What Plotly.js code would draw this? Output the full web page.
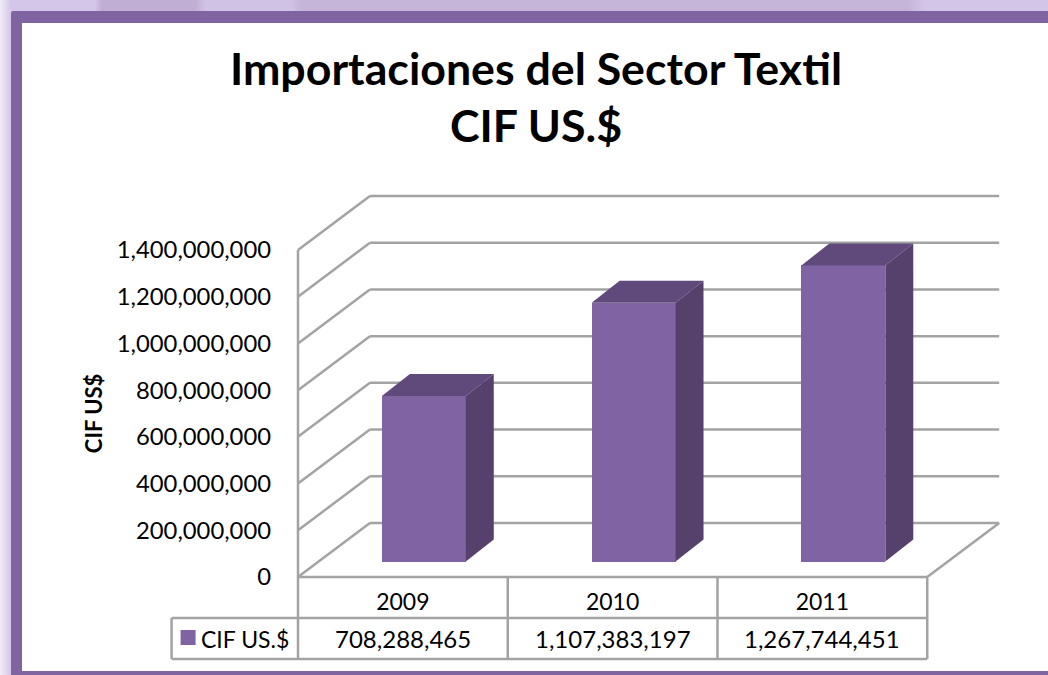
<!DOCTYPE html>
<html>
<head>
<meta charset="utf-8">
<script src="https://cdn.plot.ly/plotly-3.0.1.min.js"></script>
<style>
html,body{margin:0;padding:0;width:1048px;height:675px;overflow:hidden;}
body{position:relative;background:linear-gradient(90deg,#f2edf7 0,#d4c6e8 11px,#d4c6e8 95px,#c0aed4 102px,#c0aed4 195px,#d0c2e5 205px,#d0c2e5 292px,#c5b5d9 300px,#c5b5d9 908px,#d3c5e8 925px,#d3c5e8 100%);}
#frame{position:absolute;left:11px;top:11px;right:0;bottom:0;background:#fff;border-left:11px solid #8064a2;border-top:12px solid #8064a2;border-bottom:4px solid #8064a2;border-top-left-radius:3px;box-sizing:border-box;}
#chart{position:absolute;left:0;top:0;width:1048px;height:675px;}
</style>
</head>
<body>
<div id="frame"></div>
<div id="chart"></div>
<script>
const categories = ['2009', '2010', '2011'];
const seriesName = 'CIF US.$';
const seriesValues = [708288465, 1107383197, 1267744451];
const tickValues = [0, 200000000, 400000000, 600000000, 800000000, 1000000000, 1200000000, 1400000000];

const W = 1048, H = 675;
const pxPerCat = 209.9, pxPerUnit = 46.71 / 200000000;
const plotL = 289.5, plotR = 1003, plotT = 185, plotB = 577;
const axisX = 297.5;
const xr = [(plotL - axisX) / pxPerCat, (plotR - axisX) / pxPerCat];
const yr = [0, (plotB - plotT) / pxPerUnit];
const wallDx = 72 / pxPerCat, wallDy = 54 / pxPerUnit;
const floorDx = 0.1, floorDy = 15.5 / pxPerUnit;
const barW = 0.4, barDx = 28 / pxPerCat, barDy = 22 / pxPerUnit;
const GRID = '#a3a3a3', FRONT = '#7f63a2', TOP = '#5f4a7b', SIDE = '#56416c';
const nCat = categories.length;

const paperX = c => (c - xr[0]) / (xr[1] - xr[0]);
const paperPx = px => (px - plotL) / (plotR - plotL);
const paperY = py => (plotB - py) / (plotB - plotT);
const fmt = v => v.toLocaleString('en-US');

const centers = categories.map((_, i) => i + 0.5 + floorDx);
const traces = [{
  type: 'bar', name: seriesName, x: centers, y: seriesValues, base: floorDy, width: barW,
  marker: {color: FRONT, line: {width: 0}}, showlegend: false, hoverinfo: 'skip'
}];
seriesValues.forEach((v, i) => {
  const l = centers[i] - barW / 2, r = centers[i] + barW / 2, b = floorDy, t = floorDy + v;
  traces.push({type: 'scatter', mode: 'lines', line: {width: 0}, fill: 'toself', fillcolor: TOP,
    x: [l, l + barDx, r + barDx, r, l], y: [t, t + barDy, t + barDy, t, t],
    showlegend: false, hoverinfo: 'skip'});
  traces.push({type: 'scatter', mode: 'lines', line: {width: 0}, fill: 'toself', fillcolor: SIDE,
    x: [r, r + barDx, r + barDx, r, r], y: [t, t + barDy, b + barDy, b, t],
    showlegend: false, hoverinfo: 'skip'});
});

const gridLine = {color: GRID, width: 2.5};
const shapes = [];
const seg = (x0, y0, x1, y1) => shapes.push({type: 'line', xref: 'x', yref: 'y', x0, y0, x1, y1, layer: 'below', line: gridLine});
tickValues.forEach(v => {
  seg(0, v, wallDx, v + wallDy);
  seg(wallDx, v + wallDy, nCat + wallDx, v + wallDy);
});
seg(nCat, 0, nCat + wallDx, wallDy);

const pLine = (x0, y0, x1, y1) => shapes.push({type: 'line', xref: 'paper', yref: 'paper',
  x0: paperX(x0), x1: paperX(x1), y0: y0, y1: y1, layer: 'below', line: gridLine});
const topY = tickValues[tickValues.length - 1] * pxPerUnit;
pLine(0, paperY(plotB), 0, paperY(plotB - topY));
pLine(0, paperY(plotB), nCat, paperY(plotB));
const row1 = paperY(618), row2 = paperY(659), tableLeft = (171 - axisX) / pxPerCat;
for (let i = 0; i <= nCat; i++) pLine(i, paperY(plotB), i, row2);
pLine(tableLeft, row1, nCat, row1);
pLine(tableLeft, row2, nCat, row2);
pLine(tableLeft, row1, tableLeft, row2);
// legend key of the data table
shapes.push({type: 'rect', xref: 'paper', yref: 'paper', x0: paperPx(180), x1: paperPx(195),
  y0: paperY(645), y1: paperY(630), fillcolor: FRONT, line: {width: 0}, layer: 'above'});

const annotations = seriesValues.map((v, i) => ({
  xref: 'x', yref: 'paper', x: i + 0.5, y: paperY(638.5), text: fmt(v), showarrow: false,
  xanchor: 'center', yanchor: 'middle', font: {size: 24}
}));
annotations.push({xref: 'paper', yref: 'paper', x: paperPx(201), y: paperY(638.5), text: seriesName,
  showarrow: false, xanchor: 'left', xshift: -3, yanchor: 'middle', font: {size: 23}});
annotations.push({xref: 'paper', yref: 'paper', x: paperPx(92.5), y: paperY(413),
  text: '<b>CIF US$</b>', textangle: -90, showarrow: false, xanchor: 'center', yanchor: 'middle', font: {size: 22}});

const layout = {
  width: W, height: H,
  margin: {l: plotL, r: W - plotR, t: plotT, b: H - plotB, pad: 0, autoexpand: false},
  paper_bgcolor: 'rgba(0,0,0,0)', plot_bgcolor: 'rgba(0,0,0,0)',
  font: {family: 'Lato, "Open Sans", sans-serif', color: '#000', size: 22},
  title: {
    text: '<span style="font-size:44.7px"><b>Importaciones del Sector Textil<br>CIF US.$</b></span>',
    font: {size: 44, color: '#000'}, x: 536 / W, xanchor: 'center', xref: 'container', y: 1 - 85 / H, yanchor: 'top', yref: 'container'
  },
  xaxis: {range: xr, tickvals: categories.map((_, i) => i + 0.5), ticktext: categories,
    ticks: '', showgrid: false, zeroline: false, showline: false, tickfont: {size: 23}, ticklabelstandoff: 9, fixedrange: true},
  yaxis: {range: yr, tickvals: tickValues, ticktext: tickValues.map(fmt),
    ticks: '', showgrid: false, zeroline: false, showline: false, tickfont: {size: 23.8}, ticklabelstandoff: 18, ticklabelshift: -1.5, fixedrange: true},
  shapes, annotations, bargap: 0,
  showlegend: false
};
Plotly.newPlot('chart', traces, layout, {displayModeBar: false, staticPlot: true});
</script>
</body>
</html>
